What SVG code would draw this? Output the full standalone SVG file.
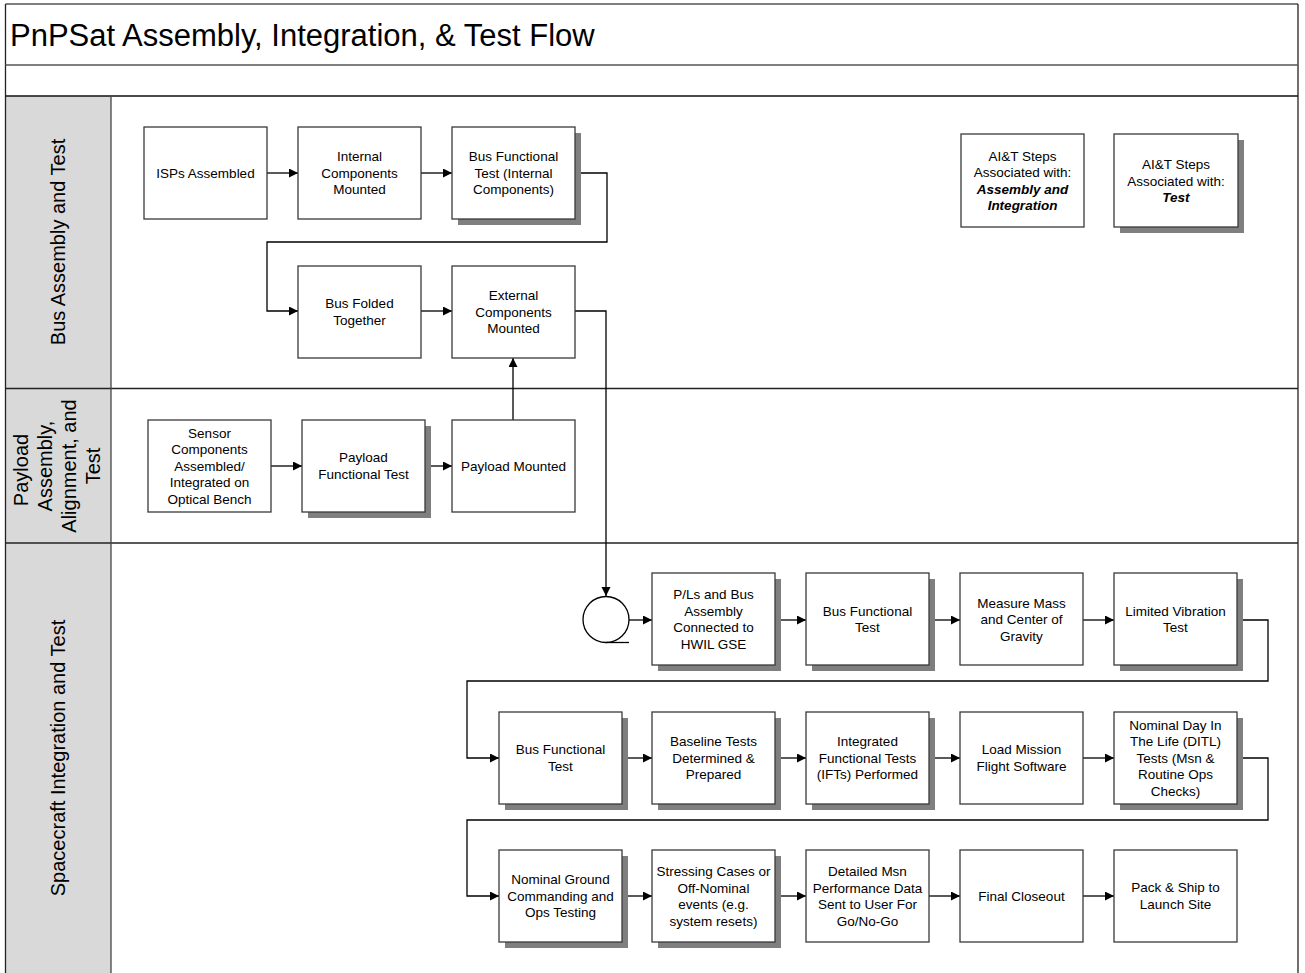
<svg xmlns="http://www.w3.org/2000/svg" width="1305" height="973" viewBox="0 0 1305 973">
<style>
text{font-family:"Liberation Sans",Arial,sans-serif;fill:#000}
.t{font-size:13.5px;text-anchor:middle}
.bi{font-weight:bold;font-style:italic}
.lane{font-size:20px;text-anchor:middle}
.box{fill:#fff;stroke:#3a3a3a;stroke-width:1.3}
.sh{fill:#7f7f7f}
.c{fill:none;stroke:#000;stroke-width:1.3}
.ca{fill:none;stroke:#000;stroke-width:1.3;marker-end:url(#ah)}
</style>
<defs>
<marker id="ah" markerUnits="userSpaceOnUse" markerWidth="10" markerHeight="10" refX="9" refY="4.5" orient="auto">
<path d="M0,0 L9,4.5 L0,9 z" fill="#000"/>
</marker>
</defs>
<rect width="1305" height="973" fill="#fff"/>

<g id="frame">
<rect x="5.5" y="96" width="105.5" height="880" fill="#d9d9d9"/>
<line x1="5.5" y1="4" x2="1298" y2="4" stroke="#555" stroke-width="1.5"/>
<line x1="5.5" y1="4" x2="5.5" y2="973" stroke="#222" stroke-width="1.3"/>
<line x1="1298" y1="4" x2="1298" y2="973" stroke="#222" stroke-width="1.3"/>
<line x1="5.5" y1="65" x2="1298" y2="65" stroke="#555" stroke-width="1.5"/>
<line x1="5.5" y1="96" x2="1298" y2="96" stroke="#111" stroke-width="1.3"/>
<line x1="5.5" y1="388.5" x2="1298" y2="388.5" stroke="#222" stroke-width="1.5"/>
<line x1="5.5" y1="543" x2="1298" y2="543" stroke="#222" stroke-width="1.5"/>
<line x1="111" y1="96" x2="111" y2="973" stroke="#444" stroke-width="1.3"/>
<text x="10" y="46" style="font-size:31px">PnPSat Assembly, Integration, &amp; Test Flow</text>
</g>

<g id="lane-bus"><text class="lane" transform="translate(0,242) rotate(-90)" x="0" y="65">Bus Assembly and Test</text></g>
<g id="lane-payload"><text class="lane" transform="translate(0,466) rotate(-90)" x="0"><tspan x="-4" y="28">Payload</tspan><tspan x="0" y="52">Assembly,</tspan><tspan x="0" y="76">Alignment, and</tspan><tspan x="0" y="100">Test</tspan></text></g>
<g id="lane-sc"><text class="lane" transform="translate(0,758) rotate(-90)" x="0" y="65">Spacecraft Integration and Test</text></g>

<g id="connectors">
<path class="ca" d="M267,173 H298"/>
<path class="ca" d="M421,173 H452"/>
<path class="ca" d="M575,173 H607 V242 H267 V311 H298"/>
<path class="ca" d="M421,311 H452"/>
<path class="ca" d="M575,311 H606 V596"/>
<path class="ca" d="M271,466 H302"/>
<path class="ca" d="M425,466 H452"/>
<path class="ca" d="M513,420 V358"/>
<path class="ca" d="M629,620 H652"/>
<path class="ca" d="M775,620 H806"/>
<path class="ca" d="M929,620 H960"/>
<path class="ca" d="M1083,620 H1114"/>
<path class="ca" d="M1237,620 H1268 V681 H467 V758 H499"/>
<path class="ca" d="M622,758 H652"/>
<path class="ca" d="M775,758 H806"/>
<path class="ca" d="M929,758 H960"/>
<path class="ca" d="M1083,758 H1114"/>
<path class="ca" d="M1237,758 H1268 V820 H467 V896 H499"/>
<path class="ca" d="M622,896 H652"/>
<path class="ca" d="M775,896 H806"/>
<path class="ca" d="M929,896 H960"/>
<path class="ca" d="M1083,896 H1114"/>
</g>

<g id="n-connector">
<circle cx="606" cy="619.5" r="23" fill="#fff" stroke="#000" stroke-width="1.3"/>
<line x1="606" y1="642.5" x2="629" y2="642.5" stroke="#000" stroke-width="1.3"/>
</g>

<g id="n-isps"><rect class="box" x="144" y="127" width="123" height="92"/><text class="t" x="205.5" y="177.5">ISPs Assembled</text></g>
<g id="n-internal"><rect class="box" x="298" y="127" width="123" height="92"/><text class="t"><tspan x="359.5" y="161">Internal</tspan><tspan x="359.5" y="177.5">Components</tspan><tspan x="359.5" y="194">Mounted</tspan></text></g>
<g id="n-busft1"><rect class="sh" x="458" y="133" width="123" height="92"/><rect class="box" x="452" y="127" width="123" height="92"/><text class="t"><tspan x="513.5" y="161">Bus Functional</tspan><tspan x="513.5" y="177.5">Test (Internal</tspan><tspan x="513.5" y="194">Components)</tspan></text></g>
<g id="n-folded"><rect class="box" x="298" y="266" width="123" height="92"/><text class="t"><tspan x="359.5" y="308">Bus Folded</tspan><tspan x="359.5" y="324.5">Together</tspan></text></g>
<g id="n-external"><rect class="box" x="452" y="266" width="123" height="92"/><text class="t"><tspan x="513.5" y="300">External</tspan><tspan x="513.5" y="316.5">Components</tspan><tspan x="513.5" y="333">Mounted</tspan></text></g>

<g id="legend-ai"><rect class="box" x="961" y="134" width="123" height="93"/><text class="t"><tspan x="1022.5" y="160.5">AI&amp;T Steps</tspan><tspan x="1022.5" y="177">Associated with:</tspan><tspan class="bi" x="1022.5" y="193.5">Assembly and</tspan><tspan class="bi" x="1022.5" y="210">Integration</tspan></text></g>
<g id="legend-test"><rect class="sh" x="1120" y="140" width="124" height="93"/><rect class="box" x="1114" y="134" width="124" height="93"/><text class="t"><tspan x="1176" y="169">AI&amp;T Steps</tspan><tspan x="1176" y="185.5">Associated with:</tspan><tspan class="bi" x="1176" y="202">Test</tspan></text></g>

<g id="n-sensor"><rect class="box" x="148" y="420" width="123" height="92"/><text class="t"><tspan x="209.5" y="437.5">Sensor</tspan><tspan x="209.5" y="454">Components</tspan><tspan x="209.5" y="470.5">Assembled/</tspan><tspan x="209.5" y="487">Integrated on</tspan><tspan x="209.5" y="503.5">Optical Bench</tspan></text></g>
<g id="n-plft"><rect class="sh" x="308" y="426" width="123" height="92"/><rect class="box" x="302" y="420" width="123" height="92"/><text class="t"><tspan x="363.5" y="462">Payload</tspan><tspan x="363.5" y="478.5">Functional Test</tspan></text></g>
<g id="n-plmounted"><rect class="box" x="452" y="420" width="123" height="92"/><text class="t" x="513.5" y="470.5">Payload Mounted</text></g>

<g id="n-pls"><rect class="sh" x="658" y="579" width="123" height="92"/><rect class="box" x="652" y="573" width="123" height="92"/><text class="t"><tspan x="713.5" y="599">P/Ls and Bus</tspan><tspan x="713.5" y="615.5">Assembly</tspan><tspan x="713.5" y="632">Connected to</tspan><tspan x="713.5" y="648.5">HWIL GSE</tspan></text></g>
<g id="n-busft2"><rect class="sh" x="812" y="579" width="123" height="92"/><rect class="box" x="806" y="573" width="123" height="92"/><text class="t"><tspan x="867.5" y="615.5">Bus Functional</tspan><tspan x="867.5" y="632">Test</tspan></text></g>
<g id="n-mass"><rect class="box" x="960" y="573" width="123" height="92"/><text class="t"><tspan x="1021.5" y="607.5">Measure Mass</tspan><tspan x="1021.5" y="624">and Center of</tspan><tspan x="1021.5" y="640.5">Gravity</tspan></text></g>
<g id="n-vib"><rect class="sh" x="1120" y="579" width="123" height="92"/><rect class="box" x="1114" y="573" width="123" height="92"/><text class="t"><tspan x="1175.5" y="615.5">Limited Vibration</tspan><tspan x="1175.5" y="632">Test</tspan></text></g>

<g id="n-busft3"><rect class="sh" x="505" y="718" width="123" height="92"/><rect class="box" x="499" y="712" width="123" height="92"/><text class="t"><tspan x="560.5" y="754">Bus Functional</tspan><tspan x="560.5" y="770.5">Test</tspan></text></g>
<g id="n-baseline"><rect class="sh" x="658" y="718" width="123" height="92"/><rect class="box" x="652" y="712" width="123" height="92"/><text class="t"><tspan x="713.5" y="746">Baseline Tests</tspan><tspan x="713.5" y="762.5">Determined &amp;</tspan><tspan x="713.5" y="779">Prepared</tspan></text></g>
<g id="n-ift"><rect class="sh" x="812" y="718" width="123" height="92"/><rect class="box" x="806" y="712" width="123" height="92"/><text class="t"><tspan x="867.5" y="746">Integrated</tspan><tspan x="867.5" y="762.5">Functional Tests</tspan><tspan x="867.5" y="779">(IFTs) Performed</tspan></text></g>
<g id="n-load"><rect class="box" x="960" y="712" width="123" height="92"/><text class="t"><tspan x="1021.5" y="754">Load Mission</tspan><tspan x="1021.5" y="770.5">Flight Software</tspan></text></g>
<g id="n-ditl"><rect class="sh" x="1120" y="718" width="123" height="92"/><rect class="box" x="1114" y="712" width="123" height="92"/><text class="t"><tspan x="1175.5" y="729.5">Nominal Day In</tspan><tspan x="1175.5" y="746">The Life (DITL)</tspan><tspan x="1175.5" y="762.5">Tests (Msn &amp;</tspan><tspan x="1175.5" y="779">Routine Ops</tspan><tspan x="1175.5" y="795.5">Checks)</tspan></text></g>

<g id="n-ground"><rect class="sh" x="505" y="856" width="123" height="92"/><rect class="box" x="499" y="850" width="123" height="92"/><text class="t"><tspan x="560.5" y="884">Nominal Ground</tspan><tspan x="560.5" y="900.5">Commanding and</tspan><tspan x="560.5" y="917">Ops Testing</tspan></text></g>
<g id="n-stress"><rect class="sh" x="658" y="856" width="123" height="92"/><rect class="box" x="652" y="850" width="123" height="92"/><text class="t"><tspan x="713.5" y="876">Stressing Cases or</tspan><tspan x="713.5" y="892.5">Off-Nominal</tspan><tspan x="713.5" y="909">events (e.g.</tspan><tspan x="713.5" y="925.5">system resets)</tspan></text></g>
<g id="n-detailed"><rect class="box" x="806" y="850" width="123" height="92"/><text class="t"><tspan x="867.5" y="876">Detailed Msn</tspan><tspan x="867.5" y="892.5">Performance Data</tspan><tspan x="867.5" y="909">Sent to User For</tspan><tspan x="867.5" y="925.5">Go/No-Go</tspan></text></g>
<g id="n-closeout"><rect class="box" x="960" y="850" width="123" height="92"/><text class="t" x="1021.5" y="900.5">Final Closeout</text></g>
<g id="n-ship"><rect class="box" x="1114" y="850" width="123" height="92"/><text class="t"><tspan x="1175.5" y="892">Pack &amp; Ship to</tspan><tspan x="1175.5" y="908.5">Launch Site</tspan></text></g>
</svg>
